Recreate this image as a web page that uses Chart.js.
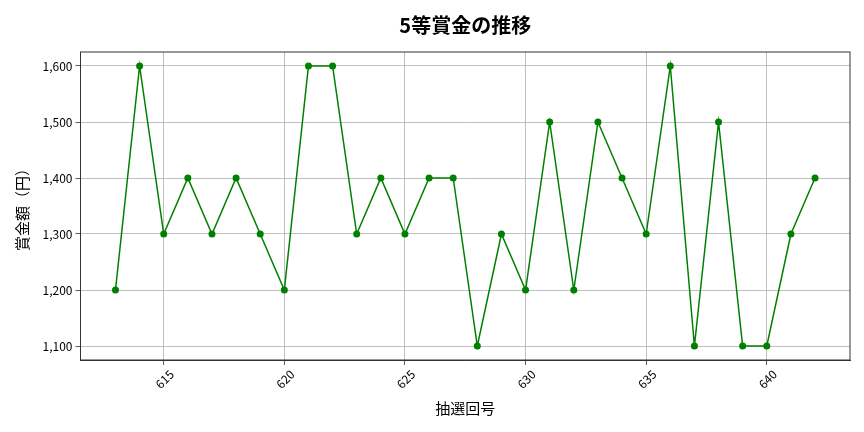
<!DOCTYPE html>
<html><head><meta charset="utf-8">
<script src="https://cdn.jsdelivr.net/npm/chart.js@4"></script>
<style>html,body{margin:0;padding:0;background:#fff}#w{width:864px;height:432px}</style>
</head><body><div id="w"><canvas id="c"></canvas></div>
<script>
const draws = [613,614,615,616,617,618,619,620,621,622,623,624,625,626,627,628,629,630,631,632,633,634,635,636,637,638,639,640,641,642];
const prizes = [1200,1600,1300,1400,1300,1400,1300,1200,1600,1600,1300,1400,1300,1400,1400,1100,1300,1200,1500,1200,1500,1400,1300,1600,1100,1500,1100,1100,1300,1400];
const xTicks = [615,620,625,630,635,640];
const yTicks = [1100,1200,1300,1400,1500,1600];
const titleText = '5等賞金の推移';
const xTitle = '抽選回号';
const yTitle = '賞金額（円）';

const F = '"Noto Sans CJK JP", "Noto Sans", sans-serif';
Chart.defaults.font.family = F;
Chart.defaults.color = '#000';

new Chart(document.getElementById('c'), {
  type: 'line',
  data: {
    datasets: [{
      data: draws.map((d, i) => ({x: d, y: prizes[i]})),
      borderColor: '#008000',
      backgroundColor: '#008000',
      borderWidth: 1.5,
      pointRadius: 3.5,
      pointHoverRadius: 3.5,
      pointBorderWidth: 0,
      tension: 0
    }]
  },
  options: {
    responsive: true,
    maintainAspectRatio: false,
    animation: false,
    devicePixelRatio: 1,
    layout: {padding: {left: 0, right: 14, top: 0, bottom: 0}},
    plugins: {
      legend: {display: false},
      tooltip: {enabled: false},
      title: {
        display: true, text: titleText, color: '#000',
        font: {size: 20, weight: 'bold', family: F, lineHeight: 1.2},
        padding: {top: 13, bottom: 15}
      }
    },
    scales: {
      x: {
        type: 'linear',
        min: 611.55, max: 643.45,
        afterBuildTicks: s => { s.ticks = xTicks.map(v => ({value: v})); },
        afterFit: s => { s.height = 72; },
        ticks: {
          maxRotation: 45, minRotation: 45, autoSkip: false,
          padding: 2, labelOffset: 8,
          font: {size: 12, family: F},
          callback: v => String(v)
        },
        grid: {color: '#b0b0b0', lineWidth: 0.8, tickLength: 5, tickColor: '#333', drawTicks: true},
        border: {color: '#333', width: 1},
        title: {display: true, text: xTitle, font: {size: 15, family: F, lineHeight: 1.2}, padding: {top: 0, bottom: 15}}
      },
      y: {
        type: 'linear',
        min: 1075, max: 1625,
        afterBuildTicks: s => { s.ticks = yTicks.map(v => ({value: v})); },
        afterFit: s => { s.width = 80.5; },
        ticks: {
          padding: 3,
          font: {size: 12, family: F},
          callback: v => v.toLocaleString('en-US')
        },
        grid: {color: '#b0b0b0', lineWidth: 0.8, tickLength: 5, tickColor: '#333'},
        border: {color: '#333', width: 1},
        title: {display: true, text: yTitle, font: {size: 15, family: F, lineHeight: 1.2}, padding: {top: 13, bottom: 0}}
      }
    }
  },
  plugins: [{
    id: 'frame',
    afterLayout(chart) {
      const tb = chart.titleBlock;
      if (tb) { tb.left = chart.chartArea.left; tb.right = chart.chartArea.right; }
    },
    afterDraw(chart) {
      const {ctx, chartArea: a} = chart;
      ctx.save();
      ctx.strokeStyle = '#333';
      ctx.lineWidth = 1;
      ctx.strokeRect(a.left, a.top, a.right - a.left, a.bottom - a.top);
      ctx.restore();
    }
  }]
});
</script></body></html>
